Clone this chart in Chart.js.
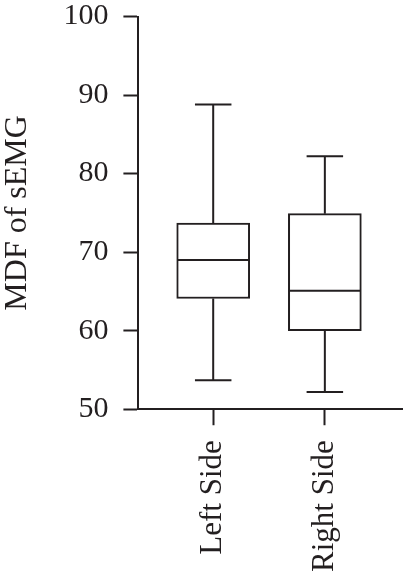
<!DOCTYPE html>
<html>
<head>
<meta charset="utf-8">
<script src="https://cdn.jsdelivr.net/npm/chart.js@4/dist/chart.umd.min.js"></script>
<style>
  body { margin: 0; background: #fff; }
  #wrap { width: 403px; height: 576px; position: relative; }
</style>
</head>
<body>
<div id="wrap"><canvas id="boxChart"></canvas></div>
<script>
// Box plot values
const categories = ["Left Side", "Right Side"];
const whiskerLow = [53.7, 52.2];
const q1 = [64.1, 60.0];
const median = [69.0, 65.1];
const q3 = [73.7, 74.9];
const whiskerHigh = [88.8, 82.2];
const yTicks = [50, 60, 70, 80, 90, 100];

const ink = "#231f20";
const serif = "'Liberation Serif', 'DejaVu Serif', serif";

// whiskers + median drawn on top of the floating bars
const boxExtras = {
  id: "boxExtras",
  afterDatasetsDraw(chart) {
    const ctx = chart.ctx;
    const y = chart.scales.y;
    const meta = chart.getDatasetMeta(0);
    ctx.save();
    ctx.strokeStyle = ink;
    ctx.lineWidth = 2;
    categories.forEach((c, i) => {
      const cx = meta.data[i].x;
      const half = meta.data[i].width / 2 - 1;
      const cap = (half + 1) / 2;
      ctx.beginPath();
      // upper whisker
      ctx.moveTo(cx, y.getPixelForValue(q3[i]));
      ctx.lineTo(cx, y.getPixelForValue(whiskerHigh[i]));
      ctx.moveTo(cx - cap, y.getPixelForValue(whiskerHigh[i]));
      ctx.lineTo(cx + cap, y.getPixelForValue(whiskerHigh[i]));
      // lower whisker
      ctx.moveTo(cx, y.getPixelForValue(q1[i]));
      ctx.lineTo(cx, y.getPixelForValue(whiskerLow[i]));
      ctx.moveTo(cx - cap, y.getPixelForValue(whiskerLow[i]));
      ctx.lineTo(cx + cap, y.getPixelForValue(whiskerLow[i]));
      // median
      ctx.moveTo(cx - half, y.getPixelForValue(median[i]));
      ctx.lineTo(cx + half, y.getPixelForValue(median[i]));
      ctx.stroke();
    });
    ctx.restore();
  }
};

new Chart(document.getElementById("boxChart"), {
  type: "bar",
  data: {
    datasets: [{
      data: categories.map((c, i) => ({ x: i + 1, y: [q1[i], q3[i]] })),
      backgroundColor: "#ffffff",
      borderColor: ink,
      borderWidth: 2,
      borderSkipped: false,
      barThickness: 73
    }]
  },
  options: {
    responsive: true,
    maintainAspectRatio: false,
    animation: false,
    layout: { padding: { left: -2, right: 0, top: 0, bottom: -11 } },
    plugins: {
      legend: { display: false },
      tooltip: { enabled: false }
    },
    scales: {
      x: {
        type: "linear",
        offset: false,
        min: 0.33,
        max: 2.7,
        afterBuildTicks: (axis) => { axis.ticks = categories.map((c, i) => ({ value: i + 1 })); },
        ticks: {
          callback: (v) => categories[v - 1],
          autoSkip: false,
          minRotation: 90,
          maxRotation: 90,
          padding: 15,
          color: ink,
          font: { family: serif, size: 31 }
        },
        grid: { offset: false, drawOnChartArea: false, tickLength: 16, tickWidth: 2, tickColor: ink },
        border: { display: true, width: 2, color: ink }
      },
      y: {
        min: 50,
        max: 100,
        afterBuildTicks: (axis) => { axis.ticks = yTicks.map(v => ({ value: v })); },
        ticks: {
          padding: 15,
          color: ink,
          font: { family: serif, size: 30, lineHeight: 0.1 }
        },
        grid: { drawOnChartArea: false, tickLength: 15, tickWidth: 2, tickColor: ink },
        border: { display: true, width: 2, color: ink },
        title: {
          display: true,
          text: "MDF of sEMG",
          color: ink,
          font: { family: serif, size: 32 },
          padding: { top: 0, bottom: 12 }
        }
      }
    }
  },
  plugins: [boxExtras]
});
</script>
</body>
</html>
